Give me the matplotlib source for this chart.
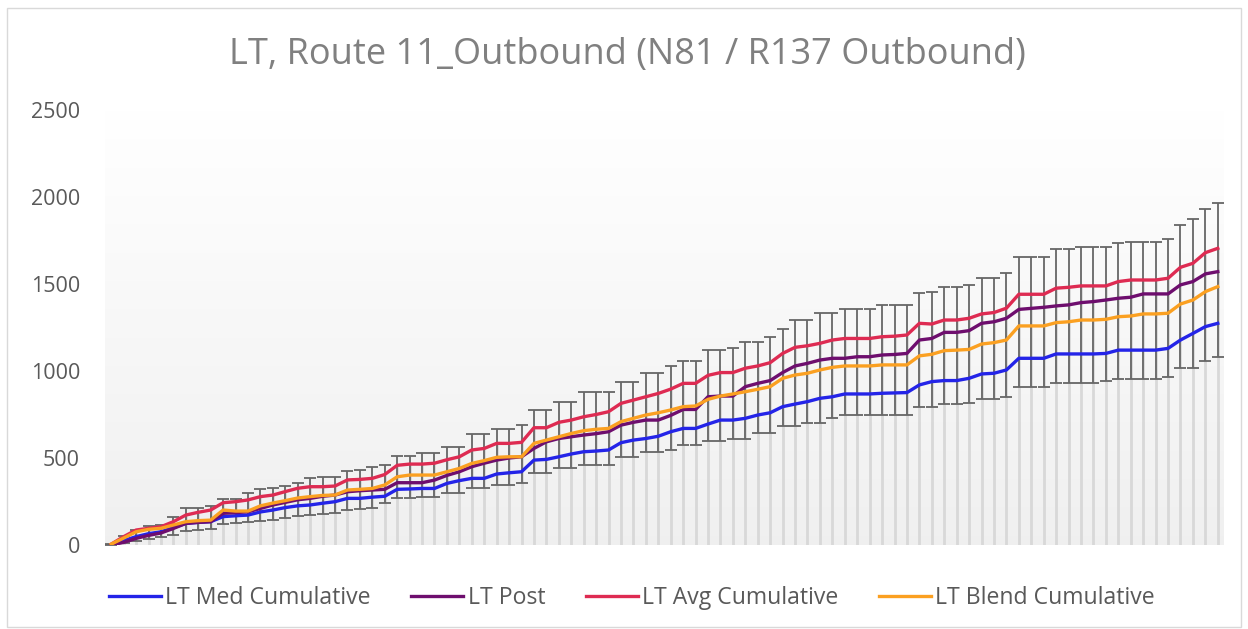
import numpy as np
import matplotlib
matplotlib.use("Agg")
import matplotlib.pyplot as plt
from matplotlib.patches import Rectangle

# ---------------- data ----------------
stops = list(range(1, 91))

lt_med_cum = [3, 25, 48, 65, 76, 100, 124, 130, 134, 163, 168, 172, 190, 201, 215, 225, 230, 240, 249, 268,
              268, 275, 280, 320, 322, 325, 325, 354, 370, 383, 383, 408, 415, 421, 488, 492, 507, 523, 536, 540,
              546, 588, 603, 612, 625, 651, 670, 670, 695, 718, 718, 728, 747, 760, 795, 810, 824, 843, 852, 868,
              868, 868, 872, 874, 876, 920, 939, 945, 945, 958, 983, 987, 1006, 1073, 1073, 1073, 1098, 1098, 1098, 1098,
              1101, 1120, 1120, 1120, 1120, 1130, 1178, 1216, 1255, 1274]

lt_post = [0, 15, 38, 55, 69, 95, 124, 130, 134, 182, 186, 191, 210, 230, 245, 260, 268, 280, 287, 306,
           312, 316, 320, 358, 358, 358, 373, 400, 421, 450, 470, 488, 500, 507, 555, 593, 612, 622, 632, 640,
           651, 689, 705, 718, 718, 745, 779, 779, 852, 856, 856, 910, 929, 945, 991, 1029, 1044, 1063, 1073, 1073,
           1082, 1082, 1092, 1095, 1101, 1178, 1187, 1222, 1222, 1232, 1274, 1283, 1303, 1354, 1360, 1366, 1374, 1380, 1393, 1399,
           1408, 1418, 1424, 1443, 1443, 1443, 1495, 1514, 1558, 1571]

lt_avg_cum = [5, 48, 86, 96, 105, 134, 172, 188, 201, 243, 249, 259, 278, 287, 307, 326, 335, 335, 339, 374,
              377, 383, 405, 458, 465, 465, 470, 490, 507, 546, 555, 584, 584, 590, 674, 674, 705, 718, 737, 750,
              766, 814, 833, 852, 871, 896, 929, 929, 975, 991, 991, 1016, 1029, 1048, 1101, 1136, 1145, 1159, 1178, 1187,
              1187, 1187, 1197, 1200, 1207, 1274, 1270, 1293, 1293, 1303, 1328, 1336, 1361, 1441, 1441, 1441, 1476, 1481, 1489, 1489,
              1489, 1514, 1523, 1523, 1523, 1533, 1596, 1619, 1680, 1705]

lt_blend_cum = [5, 40, 76, 90, 96, 115, 134, 140, 143, 201, 195, 195, 225, 241, 255, 270, 278, 285, 287, 316,
                320, 325, 345, 392, 402, 402, 402, 421, 440, 469, 485, 504, 507, 507, 584, 603, 622, 641, 657, 665,
                670, 709, 728, 747, 760, 776, 795, 799, 837, 856, 868, 881, 895, 910, 958, 977, 987, 1006, 1021, 1029,
                1029, 1029, 1035, 1035, 1035, 1087, 1096, 1117, 1120, 1124, 1155, 1163, 1178, 1259, 1259, 1259, 1278, 1283, 1293, 1293,
                1297, 1312, 1316, 1328, 1328, 1332, 1385, 1408, 1456, 1485]

err_high = [5, 50, 86, 109, 115, 163, 211, 215, 225, 262, 265, 297, 320, 330, 340, 355, 383, 389, 390, 427,
            430, 446, 462, 514, 514, 527, 527, 565, 565, 636, 636, 666, 666, 689, 775, 775, 823, 823, 877, 877,
            877, 938, 938, 986, 986, 1030, 1058, 1058, 1120, 1120, 1130, 1168, 1168, 1197, 1241, 1293, 1293, 1332, 1332, 1355,
            1355, 1355, 1378, 1378, 1378, 1446, 1455, 1481, 1481, 1495, 1533, 1533, 1562, 1653, 1653, 1653, 1699, 1699, 1711, 1711,
            1711, 1737, 1743, 1743, 1743, 1757, 1839, 1872, 1929, 1964]

err_low = [0, 10, 25, 35, 45, 60, 80, 88, 92, 120, 124, 130, 140, 145, 155, 165, 172, 180, 185, 200,
           205, 215, 240, 268, 268, 278, 278, 301, 301, 325, 325, 344, 344, 358, 412, 412, 440, 440, 459, 459,
           459, 507, 507, 536, 536, 545, 574, 574, 599, 599, 612, 612, 645, 645, 683, 683, 699, 699, 728, 747,
           747, 747, 747, 747, 747, 795, 795, 810, 810, 814, 837, 837, 848, 906, 906, 906, 933, 933, 933, 933,
           944, 952, 952, 952, 952, 964, 1016, 1016, 1060, 1082]

y_ticks = [0, 500, 1000, 1500, 2000, 2500]
title = "LT, Route 11_Outbound (N81 / R137 Outbound)"
labels = ["LT Med Cumulative", "LT Post", "LT Avg Cumulative", "LT Blend Cumulative"]
colors = ["#2424E8", "#6E0E6E", "#DE2B52", "#FBA021"]

# ---------------- figure ----------------
plt.rcParams['font.family'] = ['Open Sans', 'DejaVu Sans']
W, H = 1248, 629
fig = plt.figure(figsize=(W / 100, H / 100), dpi=100)
fig.patches.append(Rectangle((7 / W, 1 - 627 / H), (1241 - 7) / W, (627 - 8) / H,
                             transform=fig.transFigure, fill=False,
                             edgecolor="#D9D9D9", linewidth=1.0))

ax = fig.add_axes([105 / W, 1 - 545 / H, (1224 - 105) / W, (545 - 110) / H])
x = np.arange(len(stops))
ax.set_xlim(-0.5, len(stops) - 0.5)
ax.set_ylim(0, 2500)

# gradient plot-area background
grad = np.linspace(1.0, 0.0, 256).reshape(-1, 1)
top_c = np.array([1.0, 1.0, 1.0])
bot_c = np.array([0.94, 0.94, 0.94])
img = top_c * grad[..., None] + bot_c * (1 - grad[..., None])
ax.imshow(img, extent=(-0.5, len(stops) - 0.5, 0, 2500), aspect='auto', zorder=0)

series = [lt_med_cum, lt_post, lt_avg_cum, lt_blend_cum]
top_vals = np.max(np.array(series + [err_low]), axis=0)

# drop lines
ax.vlines(x, 0, top_vals, colors="#D8D8D8", linewidth=2.0, zorder=1)

# error bars (around blend series)
blend = np.array(lt_blend_cum)
yerr = [blend - np.array(err_low), np.array(err_high) - blend]
ax.errorbar(x, blend, yerr=yerr, fmt='none', ecolor="#666666", elinewidth=1.3,
            capsize=4.3, capthick=1.3, zorder=2)

for vals, lab, col in zip(series, labels, colors):
    ax.plot(x, vals, color=col, linewidth=2.4, label=lab, zorder=3,
            solid_joinstyle='round')

ax.set_yticks(y_ticks)
ax.set_xticks([])
ax.tick_params(axis='y', length=0, pad=18, labelsize=15.5, labelcolor="#595959")
for s in ax.spines.values():
    s.set_visible(False)

fig.text(627 / W, 1 - 55 / H, title, ha='center', va='center', fontsize=26, color="#808080")

fig.legend(loc='center', bbox_to_anchor=(632 / W, 1 - 598 / H), ncol=4, frameon=False,
           fontsize=16.6, labelcolor="#595959", handlelength=2.25, handletextpad=0.2,
           columnspacing=1.75)

fig.savefig("out.png", dpi=100)
